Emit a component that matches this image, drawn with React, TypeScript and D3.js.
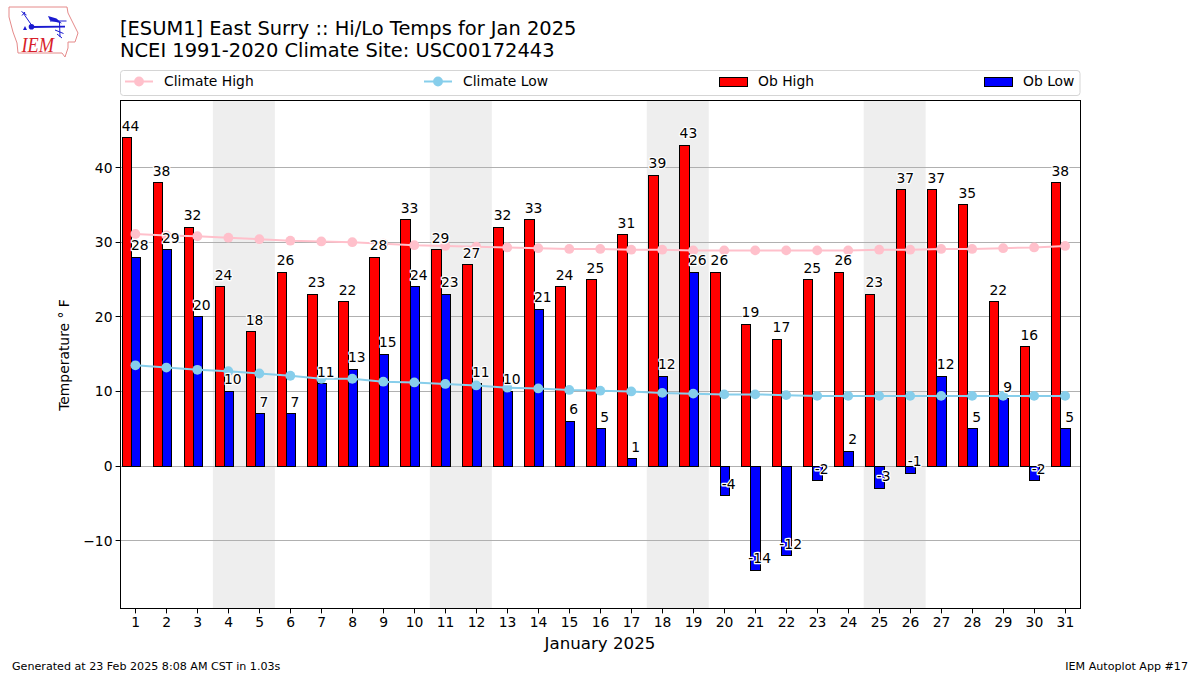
import React, { useEffect, useRef } from "react";
import * as d3 from "d3";

const days = d3.range(1, 32);
const obHigh = [44,38,32,24,18,26,23,22,28,33,29,27,32,33,24,25,31,39,43,26,19,17,25,26,23,37,37,35,22,16,38];
const obLow = [28,29,20,10,7,7,11,13,15,24,23,11,10,21,6,5,1,12,26,-4,-14,-12,-2,2,-3,-1,12,5,9,-2,5];
const climateHigh = [31.1,30.9,30.8,30.6,30.4,30.2,30.1,30.0,29.8,29.6,29.5,29.4,29.3,29.2,29.1,29.1,29.0,29.0,28.9,28.9,28.9,28.9,28.9,28.9,29.0,29.0,29.1,29.1,29.2,29.3,29.5];
const climateLow = [13.5,13.2,12.9,12.7,12.4,12.1,11.7,11.7,11.3,11.2,11.0,10.8,10.5,10.4,10.2,10.1,10.0,9.8,9.7,9.6,9.6,9.5,9.4,9.4,9.4,9.4,9.4,9.4,9.4,9.4,9.4];
const weekendStarts = [4, 11, 18, 25];
const yTicks = [-10, 0, 10, 20, 30, 40];

const FONT = "'DejaVu Sans', sans-serif";
const L = 120.5, R = 1080.5, T = 100.5, B = 608.5;
const snap = (v: number) => Math.floor(v) + 0.5;

export default function App() {
  const ref = useRef<SVGSVGElement>(null);
  useEffect(() => {
    const svg = d3.select(ref.current);
    svg.selectAll("*").remove();
    const x = d3.scaleLinear().domain([0.52, 31.48]).range([120.5, 1080]);
    const y = d3.scaleLinear().domain([-19.03, 49.06]).range([608, 100]);

    // logo
    const logo = svg.append("g");
    logo.append("path")
      .attr("d", "M9,7 L67,7 L68,13 L73,23 L78,33 L75,42 L68,42 L68,48 L65,57 L62,53 L18,53 L17,43 L13,32 L9,17 Z")
      .attr("fill", "none").attr("stroke", "#e58a8a").attr("stroke-width", 1);
    const blue = "#1a1ad0";
    logo.append("path").attr("d", "M31,27 L65,26.7").attr("stroke", blue).attr("stroke-width", 1.8).attr("fill", "none");
    logo.append("circle").attr("cx", 31.5).attr("cy", 26.7).attr("r", 2.8).attr("fill", blue);
    logo.append("path").attr("d", "M48,16 L56.5,18.5 L62,23.5 L50,20.5 Z").attr("fill", blue);
    logo.append("path").attr("d", "M50,21 L66.5,21").attr("stroke", blue).attr("stroke-width", 1).attr("fill", "none");
    logo.append("path").attr("d", "M31.5,25 L23.5,13.5 M21.5,11.5 L26.5,15 M22,15.5 L25,12").attr("stroke", blue).attr("stroke-width", 1).attr("fill", "none");
    logo.append("path").attr("d", "M59.5,22 L60,37 M55,30 L63.5,33.5 M57,34 L62,38").attr("stroke", blue).attr("stroke-width", 1).attr("fill", "none");
    logo.append("path").attr("d", "M23,30 L25,26 L27,30 Z").attr("fill", blue);
    logo.append("text").attr("x", 21.5).attr("y", 52).text("IEM")
      .attr("font-family", "'Liberation Serif', serif").attr("font-style", "italic").attr("font-size", 21)
      .attr("textLength", 32.5).attr("lengthAdjust", "spacingAndGlyphs").attr("fill", "#d81e2a");

    // titles
    ["[ESUM1] East Surry :: Hi/Lo Temps for Jan 2025", "NCEI 1991-2020 Climate Site: USC00172443"].forEach((t, i) => {
      svg.append("text").attr("x", 120).attr("y", 35 + i * 22).text(t)
        .attr("font-family", FONT).attr("font-size", 19.44).attr("fill", "#000");
    });

    // legend
    svg.append("rect").attr("x", 120.5).attr("y", 70.5).attr("width", 959.5).attr("height", 25).attr("rx", 3)
      .attr("fill", "#fff").attr("stroke", "#d5d5d5").attr("stroke-width", 1);
    const legendText = (tx: number, t: string) =>
      svg.append("text").attr("x", tx).attr("y", 86).text(t).attr("font-family", FONT).attr("font-size", 13.89).attr("fill", "#000");
    [[125, "pink", "Climate High", 164], [424, "skyblue", "Climate Low", 463]].forEach(([lx, c, t, tx]: any) => {
      svg.append("line").attr("x1", lx).attr("x2", lx + 28).attr("y1", 81.5).attr("y2", 81.5).attr("stroke", c).attr("stroke-width", 2);
      svg.append("circle").attr("cx", lx + 14).attr("cy", 81.5).attr("r", 4.9).attr("fill", c);
      legendText(tx, t);
    });
    [[719, "red", "Ob High", 758], [984, "blue", "Ob Low", 1023]].forEach(([lx, c, t, tx]: any) => {
      svg.append("rect").attr("x", lx + 0.5).attr("y", 77.5).attr("width", 28).attr("height", 9).attr("fill", c).attr("stroke", "#000").attr("stroke-width", 1);
      legendText(tx, t);
    });

    // shading
    weekendStarts.forEach((d) => {
      svg.append("rect").attr("x", x(d - 0.5)).attr("y", T).attr("width", x(d + 1.5) - x(d - 0.5)).attr("height", B - T).attr("fill", "#eeeeee");
    });

    // grid
    svg.append("g").selectAll("line").data(yTicks).join("line")
      .attr("x1", L).attr("x2", R).attr("y1", (d) => snap(y(d))).attr("y2", (d) => snap(y(d)))
      .attr("stroke", "#b0b0b0").attr("stroke-width", 1);

    // bars
    const bars = (vals: number[], from: number, to: number, c: string) =>
      svg.append("g").selectAll("rect").data(vals).join("rect")
        .attr("x", (_, i) => snap(x(days[i] + from)))
        .attr("width", (_, i) => snap(x(days[i] + to)) - snap(x(days[i] + from)))
        .attr("y", (d) => snap(Math.min(y(d), y(0))))
        .attr("height", (d) => Math.abs(snap(y(d)) - snap(y(0))))
        .attr("fill", c).attr("stroke", "#000").attr("stroke-width", 1);
    bars(obHigh, -0.43, -0.136, "red");
    bars(obLow, -0.136, 0.158, "blue");

    // climate lines
    const line = d3.line<number>().x((_, i) => x(days[i])).y((d) => y(d));
    ([[climateHigh, "pink"], [climateLow, "skyblue"]] as [number[], string][]).forEach(([vals, c]) => {
      svg.append("path").attr("d", line(vals)).attr("fill", "none").attr("stroke", c).attr("stroke-width", 2);
      svg.append("g").selectAll("circle").data(vals).join("circle")
        .attr("cx", (_, i) => x(days[i])).attr("cy", (d) => y(d)).attr("r", 4.9).attr("fill", c);
    });

    // value labels
    const labels = (vals: number[], off: number) =>
      svg.append("g").selectAll("text").data(vals).join("text")
        .attr("x", (_, i) => x(days[i] + off))
        .attr("y", (d) => y(d) - 7)
        .attr("text-anchor", "middle")
        .text((d) => String(d))
        .attr("font-family", FONT).attr("font-size", 13.89).attr("fill", "#000")
        .attr("stroke", "#fff").attr("stroke-width", 2.5).attr("paint-order", "stroke").attr("stroke-linejoin", "round");
    labels(obHigh, -0.155);
    labels(obLow, 0.145);

    // frame
    svg.append("rect").attr("x", L).attr("y", T).attr("width", R - L).attr("height", B - T)
      .attr("fill", "none").attr("stroke", "#000").attr("stroke-width", 1);

    // x axis
    const gx = svg.append("g");
    days.forEach((d) => {
      gx.append("line").attr("x1", snap(x(d))).attr("x2", snap(x(d))).attr("y1", B).attr("y2", B + 4.9).attr("stroke", "#000");
      gx.append("text").attr("x", x(d) + 0.3).attr("y", B + 18.5).attr("text-anchor", "middle").text(String(d))
        .attr("font-family", FONT).attr("font-size", 13.89).attr("fill", "#000");
    });
    // y axis
    const gy = svg.append("g");
    yTicks.forEach((d) => {
      gy.append("line").attr("x1", L - 4.9).attr("x2", L).attr("y1", snap(y(d))).attr("y2", snap(y(d))).attr("stroke", "#000");
      gy.append("text").attr("x", L - 8).attr("y", y(d) + 5).attr("text-anchor", "end").text(d < 0 ? `\u2212${-d}` : String(d))
        .attr("font-family", FONT).attr("font-size", 13.89).attr("fill", "#000");
    });

    svg.append("text").attr("x", 600).attr("y", 649).attr("text-anchor", "middle").text("January 2025")
      .attr("font-family", FONT).attr("font-size", 16.67).attr("fill", "#000");
    svg.append("text").attr("transform", "translate(69,355) rotate(-90)").attr("text-anchor", "middle").text("Temperature \u00b0 F")
      .attr("font-family", FONT).attr("font-size", 13.89).attr("fill", "#000");

    svg.append("text").attr("x", 12).attr("y", 670).text("Generated at 23 Feb 2025 8:08 AM CST in 1.03s")
      .attr("font-family", FONT).attr("font-size", 11.11).attr("fill", "#000");
    svg.append("text").attr("x", 1188).attr("y", 670).attr("text-anchor", "end").text("IEM Autoplot App #17")
      .attr("font-family", FONT).attr("font-size", 11.11).attr("fill", "#000");
  }, []);
  return <svg ref={ref} width={1200} height={675} style={{ position: "absolute", left: 0, top: 0, background: "#fff" }} />;
}
